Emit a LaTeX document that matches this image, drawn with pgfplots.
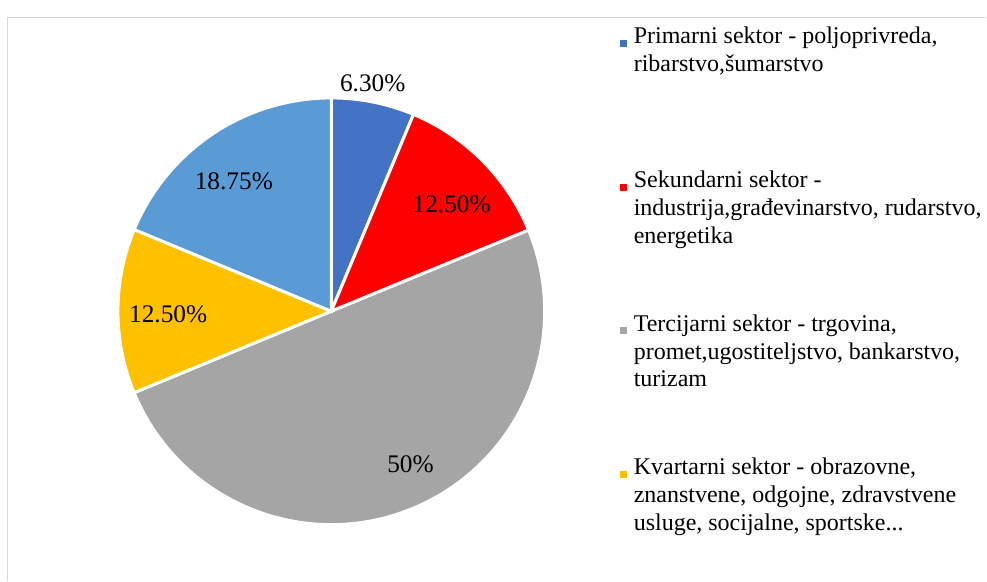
\documentclass[border=0pt]{standalone}
\usepackage{fontspec}
\setmainfont{Liberation Serif}
\usepackage{pgfplots}
\pgfplotsset{compat=1.18}
\definecolor{cBlue}{HTML}{4472C4}
\definecolor{cRed}{HTML}{FF0000}
\definecolor{cGray}{HTML}{A5A5A5}
\definecolor{cGold}{HTML}{FFC000}
\definecolor{cLBlue}{HTML}{5B9BD5}
\definecolor{cFrame}{HTML}{D9D9D9}
% data (percent)
\def\vA{6.30}\def\vB{12.50}\def\vC{50}\def\vD{12.50}\def\vE{18.75}
\pgfmathsetmacro\tot{\vA+\vB+\vC+\vD+\vE}
\pgfmathsetmacro\aA{90}
\pgfmathsetmacro\aB{\aA-\vA/\tot*360}
\pgfmathsetmacro\aC{\aB-\vB/\tot*360}
\pgfmathsetmacro\aD{\aC-\vC/\tot*360}
\pgfmathsetmacro\aE{\aD-\vD/\tot*360}
\pgfmathsetmacro\aF{\aE-\vE/\tot*360}
\def\R{160.125pt}
\newcommand\lf{\fontsize{19}{22}\selectfont}
\tikzset{lg/.style={anchor=base west, inner sep=0pt, font=\fontsize{18}{21}\selectfont},
  dl/.style={anchor=base, inner sep=0pt, font=\lf}}
\begin{document}
\begin{tikzpicture}
\begin{axis}[
  scale only axis, width=740.25pt, height=435.75pt,
  xmin=0, xmax=987, ymin=0, ymax=581,
  hide axis, clip=false]
\path (axis cs:0,0) rectangle (axis cs:987,581);
% frame
\draw[cFrame, line width=1.1pt] (axis cs:7.5,0) -- (axis cs:7.5,563.5) -- (axis cs:987,563.5);
% slices
\fill[cBlue, draw=white, line width=2.25pt] (axis cs:331.5,269.5) -- ++(\aA:\R) arc[start angle=\aA, end angle=\aB, radius=\R] -- cycle;
\fill[cRed, draw=white, line width=2.25pt] (axis cs:331.5,269.5) -- ++(\aB:\R) arc[start angle=\aB, end angle=\aC, radius=\R] -- cycle;
\fill[cGray, draw=white, line width=2.25pt] (axis cs:331.5,269.5) -- ++(\aC:\R) arc[start angle=\aC, end angle=\aD, radius=\R] -- cycle;
\fill[cGold, draw=white, line width=2.25pt] (axis cs:331.5,269.5) -- ++(\aD:\R) arc[start angle=\aD, end angle=\aE, radius=\R] -- cycle;
\fill[cLBlue, draw=white, line width=2.25pt] (axis cs:331.5,269.5) -- ++(\aE:\R) arc[start angle=\aE, end angle=\aF, radius=\R] -- cycle;
% data labels
\node[dl] at (axis cs:373,489.3) {6.30\%};
\node[dl] at (axis cs:452,368) {12.50\%};
\node[dl] at (axis cs:410.8,107.7) {50\%};
\node[dl] at (axis cs:168.3,258.3) {12.50\%};
\node[dl] at (axis cs:234,391.7) {18.75\%};
% legend
\fill[cBlue]  (axis cs:620,541) rectangle (axis cs:627,534);
\fill[cRed]   (axis cs:620,397) rectangle (axis cs:627,390);
\fill[cGray]  (axis cs:620,253.3) rectangle (axis cs:627,246.3);
\fill[cGold]  (axis cs:620,110) rectangle (axis cs:627,103);
\node[lg] at (axis cs:634,537) {Primarni sektor - poljoprivreda,};
\node[lg] at (axis cs:634,509.3) {ribarstvo,šumarstvo};
\node[lg] at (axis cs:634,393) {Sekundarni sektor -};
\node[lg] at (axis cs:634,365.3) {industrija,građevinarstvo, rudarstvo,};
\node[lg] at (axis cs:634,337.6) {energetika};
\node[lg] at (axis cs:634,249.3) {Tercijarni sektor - trgovina,};
\node[lg] at (axis cs:634,221.6) {promet,ugostiteljstvo, bankarstvo,};
\node[lg] at (axis cs:634,193.9) {turizam};
\node[lg] at (axis cs:634,106) {Kvartarni sektor - obrazovne,};
\node[lg] at (axis cs:634,78.3) {znanstvene, odgojne, zdravstvene};
\node[lg] at (axis cs:634,50.6) {usluge, socijalne, sportske...};
\end{axis}
\end{tikzpicture}
\end{document}
